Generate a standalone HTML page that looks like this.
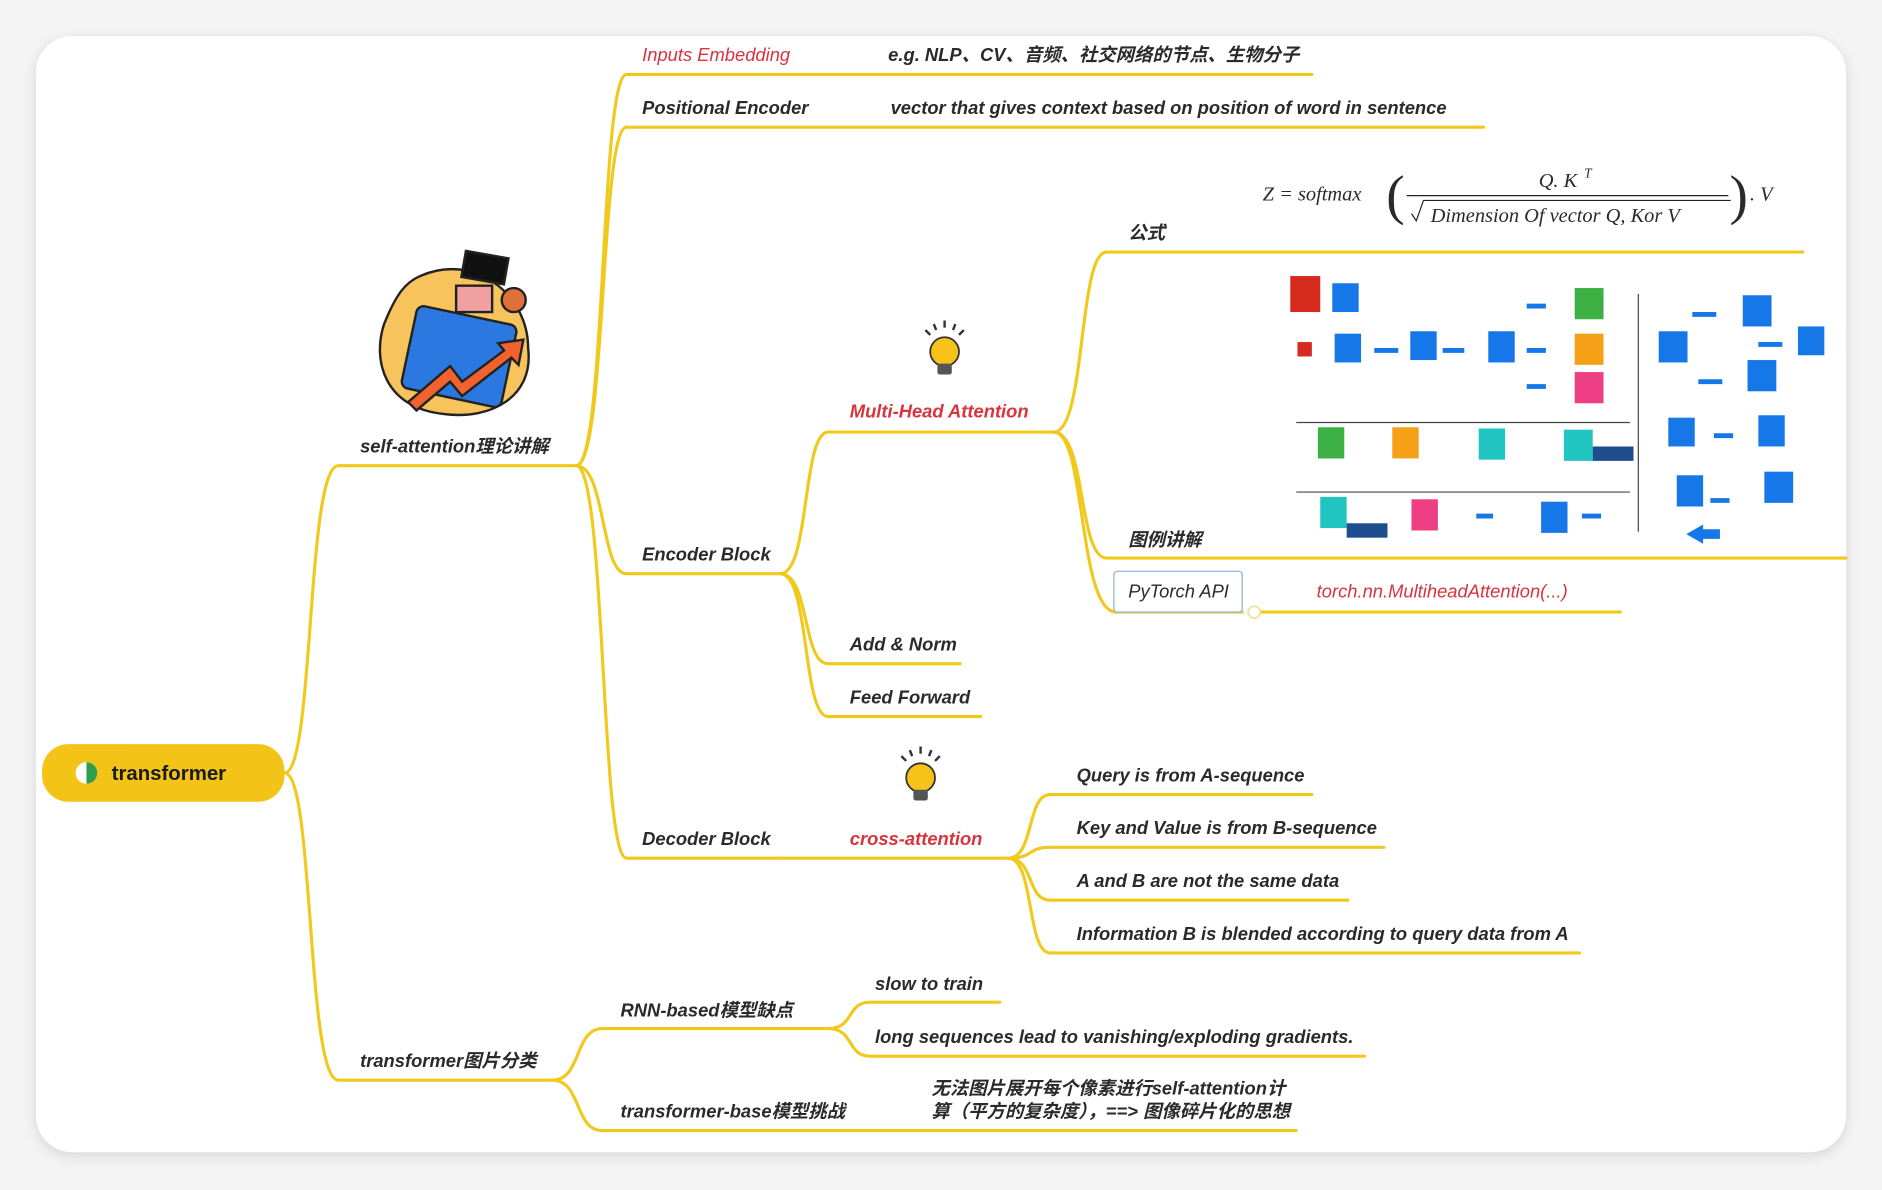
<!DOCTYPE html>
<html><head><meta charset="utf-8"><style>
html,body{margin:0;padding:0;background:#f4f4f4;width:1882px;height:1190px;overflow:hidden}
svg{display:block}
text{font-family:"Liberation Sans","Noto Sans CJK SC",sans-serif;font-style:italic;font-weight:bold;font-size:15.3px;fill:#2a2a2a}
.r{fill:#d8343e}
.l{fill:none;stroke:#f0c91c;stroke-width:2.6;stroke-linecap:round}
</style></head><body>
<svg width="1882" height="1190" viewBox="0 0 1568 991.5" xmlns="http://www.w3.org/2000/svg">
<defs><filter id="sh" x="-5%" y="-5%" width="110%" height="110%"><feGaussianBlur stdDeviation="6"/></filter></defs>
<rect x="30" y="33" width="1508" height="930" rx="30" fill="#000" opacity="0.12" filter="url(#sh)"/>
<rect x="30" y="30" width="1508" height="930" rx="30" fill="#fff"/>

<g class="l">
<path d="M237,644 C262,644 255,388 282,388 L480,388"/>
<path d="M237,644 C262,644 255,900 282,900 L460,900"/>
<path d="M480,388 C505,388 500,62 522,62 L1093,62"/>
<path d="M480,388 C505,388 500,106 522,106 L1236,106"/>
<path d="M480,388 C505,388 500,478 522,478 L650,478"/>
<path d="M480,388 C505,388 500,715 522,715 L650,715"/>
<path d="M650,478 C675,478 668,360 690,360 L878,360"/>
<path d="M650,478 C675,478 668,553 690,553 L800,553"/>
<path d="M650,478 C675,478 668,597 690,597 L817,597"/>
<path d="M650,715 L840,715"/>
<path d="M878,360 C905,360 898,210 922,210 L1502,210"/>
<path d="M878,360 C905,360 898,465 922,465 L1538,465"/>
<path d="M878,360 C905,360 898,510 930,510 L1035,510"/>
<path d="M1045,510 L1350,510"/>
<path d="M840,715 C862,715 855,662 875,662 L1093,662"/>
<path d="M840,715 C862,715 855,706 875,706 L1153,706"/>
<path d="M840,715 C862,715 855,750 875,750 L1123,750"/>
<path d="M840,715 C862,715 855,794 875,794 L1316,794"/>
<path d="M460,900 C485,900 478,857 502,857 L690,857"/>
<path d="M460,900 C485,900 478,942 502,942 L1080,942"/>
<path d="M690,857 C712,857 705,835 725,835 L833,835"/>
<path d="M690,857 C712,857 705,880 725,880 L1137,880"/>
</g>
<circle cx="1045" cy="510" r="5" fill="#fff" stroke="#f0e0a0" stroke-width="1.5"/>

<rect x="35" y="620" width="202" height="48" rx="22" fill="#f3c417"/>
<circle cx="72" cy="644" r="9" fill="#fff"/>
<path d="M72,635 A9,9 0 0 1 72,653 Z" fill="#2e9e4a"/>
<text x="93" y="650" style="font-style:normal;font-size:17px;fill:#1a1a1a">transformer</text>

<text x="300" y="377">self-attention理论讲解</text>
<text x="300" y="889">transformer图片分类</text>
<text x="535" y="51" class="r" style="font-weight:normal">Inputs Embedding</text>
<text x="740" y="51">e.g. NLP、CV、音频、社交网络的节点、生物分子</text>
<text x="535" y="95">Positional Encoder</text>
<text x="742" y="95">vector that gives context based on position of word in sentence</text>
<text x="535" y="467">Encoder Block</text>
<text x="535" y="704">Decoder Block</text>
<text x="708" y="348" class="r">Multi-Head Attention</text>
<text x="708" y="542">Add &amp; Norm</text>
<text x="708" y="586">Feed Forward</text>
<text x="708" y="704" class="r">cross-attention</text>
<text x="940" y="199">公式</text>
<text x="940" y="455">图例讲解</text>
<rect x="928" y="476" width="107" height="34" rx="3" fill="#fff" stroke="#9bbde0" stroke-width="1.2"/>
<text x="940" y="498" style="font-weight:normal">PyTorch API</text>
<text x="1097" y="498" class="r" style="font-weight:normal">torch.nn.MultiheadAttention(...)</text>
<text x="897" y="651">Query is from A-sequence</text>
<text x="897" y="695">Key and Value is from B-sequence</text>
<text x="897" y="739">A and B are not the same data</text>
<text x="897" y="783">Information B is blended according to query data from A</text>
<text x="517" y="847">RNN-based模型缺点</text>
<text x="729" y="825">slow to train</text>
<text x="729" y="869">long sequences lead to vanishing/exploding gradients.</text>
<text x="517" y="931">transformer-base模型挑战</text>
<text x="776" y="912">无法图片展开每个像素进行self-attention计</text>
<text x="776" y="931">算（平方的复杂度），==&gt; 图像碎片化的思想</text>

<g>
<text x="1052" y="167" style="font-family:'Liberation Serif',serif;font-weight:normal;font-size:17px">Z = softmax</text>
<text x="1155" y="178" style="font-family:'Liberation Serif',serif;font-weight:normal;font-size:46px;font-style:normal">(</text>
<text x="1282" y="156" style="font-family:'Liberation Serif',serif;font-weight:normal;font-size:17px">Q. K</text>
<text x="1320" y="148" style="font-family:'Liberation Serif',serif;font-weight:normal;font-size:11px">T</text>
<line x1="1172" y1="163" x2="1440" y2="163" stroke="#222" stroke-width="1"/>
<path d="M1176,178 l4,6 l6,-17 h256" fill="none" stroke="#222" stroke-width="1"/>
<text x="1192" y="185" style="font-family:'Liberation Serif',serif;font-weight:normal;font-size:17px">Dimension Of vector Q, Kor V</text>
<text x="1441" y="178" style="font-family:'Liberation Serif',serif;font-weight:normal;font-size:46px;font-style:normal">)</text>
<text x="1458" y="167" style="font-family:'Liberation Serif',serif;font-weight:normal;font-size:17px">. V</text>
</g>

<g>
<rect x="1075" y="228" width="450" height="232" fill="#fff"/>
<rect x="1075" y="230" width="25" height="30" fill="#d62b1f"/>
<rect x="1110" y="236" width="22" height="24" fill="#1677e8"/>
<rect x="1081" y="285" width="12" height="12" fill="#d62b1f"/>
<rect x="1112" y="278" width="22" height="24" fill="#1677e8"/>
<rect x="1175" y="276" width="22" height="24" fill="#1677e8"/>
<rect x="1240" y="276" width="22" height="26" fill="#1677e8"/>
<rect x="1312" y="240" width="24" height="26" fill="#3cb043"/>
<rect x="1312" y="278" width="24" height="26" fill="#f6a018"/>
<rect x="1312" y="310" width="24" height="26" fill="#ee3f84"/>
<path d="M1145,292 h20 M1202,292 h18 M1272,255 h16 M1272,292 h16 M1272,322 h16" stroke="#1677e8" stroke-width="4"/>
<line x1="1080" y1="352" x2="1358" y2="352" stroke="#444"/>
<line x1="1080" y1="410" x2="1358" y2="410" stroke="#444"/>
<line x1="1365" y1="245" x2="1365" y2="443" stroke="#444"/>
<rect x="1098" y="356" width="22" height="26" fill="#3cb043"/>
<rect x="1160" y="356" width="22" height="26" fill="#f6a018"/>
<rect x="1232" y="357" width="22" height="26" fill="#20c4c0"/>
<rect x="1303" y="358" width="24" height="26" fill="#20c4c0"/>
<rect x="1327" y="372" width="34" height="12" fill="#1e4e90"/>
<rect x="1100" y="414" width="22" height="26" fill="#20c4c0"/>
<rect x="1122" y="436" width="34" height="12" fill="#1e4e90"/>
<rect x="1176" y="416" width="22" height="26" fill="#ee3f84"/>
<rect x="1284" y="418" width="22" height="26" fill="#1677e8"/>
<rect x="1382" y="276" width="24" height="26" fill="#1677e8"/>
<rect x="1452" y="246" width="24" height="26" fill="#1677e8"/>
<rect x="1498" y="272" width="22" height="24" fill="#1677e8"/>
<rect x="1456" y="300" width="24" height="26" fill="#1677e8"/>
<rect x="1390" y="348" width="22" height="24" fill="#1677e8"/>
<rect x="1465" y="346" width="22" height="26" fill="#1677e8"/>
<rect x="1397" y="396" width="22" height="26" fill="#1677e8"/>
<rect x="1470" y="393" width="24" height="26" fill="#1677e8"/>
<path d="M1410,262 h20 M1465,287 h20 M1415,318 h20 M1428,363 h16 M1425,417 h16 M1230,430 h14 M1318,430 h16" stroke="#1677e8" stroke-width="4"/>
<path d="M1405,445 l14,-8 v4 h14 v8 h-14 v4 z" fill="#1677e8"/>
</g>

<g transform="translate(787,293)">
<path d="M-12,-14 l-4,-4 M12,-14 l4,-4 M0,-20 v-6 M-7,-18 l-2,-5 M7,-18 l2,-5" stroke="#333" stroke-width="2"/>
<circle cx="0" cy="0" r="12" fill="#f7c21a" stroke="#333" stroke-width="1.5"/>
<rect x="-6" y="10" width="12" height="9" rx="2" fill="#555"/>
</g>
<g transform="translate(767,648)">
<path d="M-12,-14 l-4,-4 M12,-14 l4,-4 M0,-20 v-6 M-7,-18 l-2,-5 M7,-18 l2,-5" stroke="#333" stroke-width="2"/>
<circle cx="0" cy="0" r="12" fill="#f7c21a" stroke="#333" stroke-width="1.5"/>
<rect x="-6" y="10" width="12" height="9" rx="2" fill="#555"/>
</g>

<g stroke="#222" stroke-width="2">
<path d="M350,230 C395,210 440,245 440,290 C445,330 410,350 370,345 C320,340 310,300 320,270 C330,245 338,235 350,230 Z" fill="#f7c35c"/>
<rect x="386" y="212" width="36" height="22" fill="#111" transform="rotate(10 404 223)"/>
<path d="M380,238 h30 v22 h-30 z" fill="#f0a0a0"/>
<rect x="340" y="262" width="85" height="70" rx="6" fill="#2a78e0" transform="rotate(12 382 297)"/>
<circle cx="428" cy="250" r="10" fill="#e0703a"/>
<path d="M340,335 L375,305 L385,318 L420,292 L415,286 L436,283 L432,304 L426,298 L385,330 L375,318 L347,342 Z" fill="#f2622e"/>
</g>
</svg>
</body></html>
